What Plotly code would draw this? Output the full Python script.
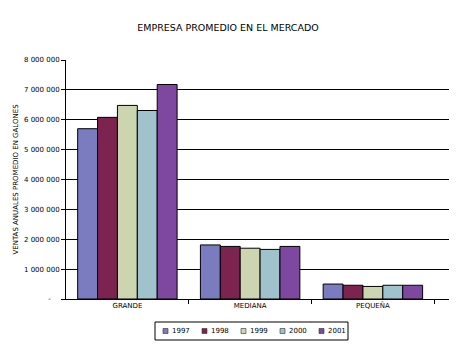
import plotly.graph_objects as go

categories = ["GRANDE", "MEDIANA", "PEQUEÑA"]
years = ["1997", "1998", "1999", "2000", "2001"]
values = {
    "1997": [5700000, 1810000, 500000],
    "1998": [6080000, 1760000, 460000],
    "1999": [6480000, 1700000, 420000],
    "2000": [6310000, 1660000, 460000],
    "2001": [7180000, 1760000, 460000],
}
colors = ["#7b7bc0", "#7c2350", "#ccd4b0", "#9fc2cc", "#7e48a0"]
ytickvals = [0, 1000000, 2000000, 3000000, 4000000, 5000000, 6000000, 7000000, 8000000]
yticktext = ["-\u00a0\u00a0\u00a0\u00a0", "1 000 000", "2 000 000", "3 000 000", "4 000 000",
             "5 000 000", "6 000 000", "7 000 000", "8 000 000"]

W, H = 456, 349
ML, MR, MT, MB = 66, 7, 60, 50
PW, PH = W - ML - MR, H - MT - MB


def px_x(x):
    return (x - ML) / PW


def px_y(y):
    return (H - MB - y) / PH


xpos = list(range(len(categories)))
fig = go.Figure()
for yr, c in zip(years, colors):
    fig.add_trace(go.Bar(x=xpos, y=values[yr], name=yr, showlegend=False,
                         marker=dict(color=c, line=dict(color="black", width=1))))

font = "DejaVu Sans"

# custom compact legend (Excel style)
shapes = [dict(type="rect", xref="paper", yref="paper",
               x0=px_x(155), x1=px_x(348), y0=px_y(340), y1=px_y(322),
               line=dict(color="black", width=1), fillcolor="white")]
annotations = []
for i, (yr, c) in enumerate(zip(years, colors)):
    cx = 165.5 + 39 * i
    shapes.append(dict(type="rect", xref="paper", yref="paper",
                       x0=px_x(cx - 2.5), x1=px_x(cx + 2.5),
                       y0=px_y(333.5), y1=px_y(328.5),
                       line=dict(color="#333333", width=0.6), fillcolor=c))
    annotations.append(dict(text=yr, xref="paper", yref="paper",
                            x=px_x(cx + 4.5), y=px_y(331), xanchor="left",
                            yanchor="middle", showarrow=False,
                            font=dict(size=7, family=font, color="black")))

fig.update_layout(
    width=W, height=H,
    margin=dict(l=ML, r=MR, t=MT, b=MB),
    paper_bgcolor="white", plot_bgcolor="white",
    barmode="group", bargap=0.19, bargroupgap=0,
    font=dict(family=font, size=7, color="black"),
    title=dict(text="EMPRESA PROMEDIO EN EL MERCADO", x=0.5, xanchor="center",
               y=1 - 28 / H, yanchor="middle",
               font=dict(size=9.5, family=font)),
    showlegend=False,
    shapes=shapes,
    annotations=annotations,
    xaxis=dict(range=[-0.5, 2.62], tickvals=xpos, ticktext=categories, ticks="",
               showline=True, linecolor="black", linewidth=1, showgrid=False,
               zeroline=False, tickfont=dict(size=7),
               minor=dict(tickvals=[0.5, 1.5, 2.5], ticks="outside", ticklen=4,
                          tickcolor="black", showgrid=False)),
    yaxis=dict(range=[0, 8000000], tickvals=ytickvals, ticktext=yticktext,
               ticks="outside", ticklen=4, tickcolor="black",
               showline=True, linecolor="black", linewidth=1,
               showgrid=True, gridcolor="black", gridwidth=1, zeroline=False,
               title=dict(text="VENTAS ANUALES PROMEDIO EN GALONES", font=dict(size=7),
                          standoff=4),
               tickfont=dict(size=7)),
)
fig.write_html("out.html")
